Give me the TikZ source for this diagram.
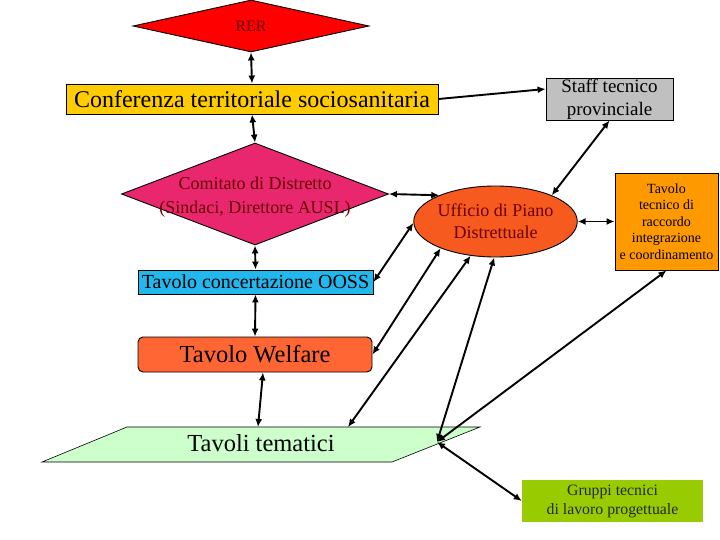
\documentclass[tikz,border=0pt]{standalone}
\usepackage{fontspec}
\setmainfont{Liberation Serif}
\usetikzlibrary{shapes.geometric,arrows.meta,calc}
\definecolor{rerred}{HTML}{FF0000}
\definecolor{confgold}{HTML}{FFCC00}
\definecolor{staffgray}{HTML}{C0C0C0}
\definecolor{comipink}{HTML}{E8276E}
\definecolor{uffred}{HTML}{F65A1E}
\definecolor{tecorange}{HTML}{FF9900}
\definecolor{oossblue}{HTML}{22B8EE}
\definecolor{welforange}{HTML}{FF6633}
\definecolor{temgreen}{HTML}{CCFFCC}
\definecolor{grupgreen}{HTML}{99CC00}
\definecolor{darkred}{HTML}{6A0000}
\tikzset{
  boxnode/.style={draw=black, line width=0.9pt, inner sep=0pt, align=center},
  link/.style={line width=1.9pt, {Latex[length=8pt,width=7pt]}-{Latex[length=8pt,width=7pt]}},
  onelink/.style={line width=1.9pt, -{Latex[length=8pt,width=7pt]}},
}
\begin{document}
\begin{tikzpicture}[x=1pt,y=-1pt]
\useasboundingbox (0,0) rectangle (720,540);
% nodes
\node[diamond, boxnode, fill=rerred, minimum width=236pt, minimum height=52pt, aspect=4.5] (rer) at (251,26) {};
\node[text=darkred, inner sep=0pt, font=\fontsize{16}{18}\selectfont] (rertext) at (rer.center) {RER};
\node[boxnode, fill=confgold, minimum width=372pt, minimum height=30pt,
      font=\fontsize{24}{26}\selectfont] (conf) at (252,99) {Conferenza territoriale sociosanitaria};
\node[boxnode, fill=staffgray, minimum width=127pt, minimum height=42pt,
      font=\fontsize{19}{23}\selectfont] (staff) at (609.5,99) {Staff tecnico\\provinciale};
\node[diamond, boxnode, fill=comipink, minimum width=267pt, minimum height=102pt, aspect=2.6] (comi) at (255,194) {};
\node[text=darkred, inner sep=0pt, align=center, font=\fontsize{18}{24}\selectfont] (comitext) at (255,197) {Comitato di Distretto\\(Sindaci, Direttore AUSL)};
\node[ellipse, boxnode, fill=uffred, minimum width=149pt, minimum height=71pt, text=darkred,
      font=\fontsize{18}{22}\selectfont] (uff) at (495.5,221.5) {Ufficio di Piano\\Distrettuale};
\node[boxnode, fill=tecorange, minimum width=103pt, minimum height=97pt,
      font=\fontsize{14}{16.5}\selectfont] (tec) at (666.5,221.5) {Tavolo\\tecnico di\\raccordo\\integrazione\\e coordinamento};
\node[boxnode, fill=oossblue, minimum width=235pt, minimum height=24pt,
      font=\fontsize{20}{22}\selectfont] (ooss) at (255.5,282) {Tavolo concertazione OOSS};
\node[boxnode, fill=welforange, rounded corners=5pt, minimum width=234pt, minimum height=35pt,
      font=\fontsize{24.5}{26}\selectfont] (welf) at (255,354.5) {Tavolo Welfare};
% parallelogram Tavoli tematici
\coordinate (pA) at (127,427);
\coordinate (pB) at (480,427);
\coordinate (pC) at (392,462);
\coordinate (pD) at (42,462);
\draw[fill=temgreen, line width=0.6pt] (pA) -- (pB) -- (pC) -- (pD) -- cycle;
\node[inner sep=0pt, font=\fontsize{24.5}{26}\selectfont] (tem) at (261,443) {Tavoli tematici};
\coordinate (t1) at (258,427);
\coordinate (t2) at (348,427);
\coordinate (hub) at (437,442);
\node[fill=grupgreen, inner sep=0pt, align=center, minimum width=181pt, minimum height=42pt,
      text=black!85, font=\fontsize{15.8}{19}\selectfont] (grup) at (612.5,501) {Gruppi tecnici\\di lavoro progettuale};
% connectors
\draw[link] (rer.south) -- (conf.north);
\draw[link] (conf.south) -- (comi.north);
\draw[onelink] (conf.east) -- ($(staff.west)+(0,-10)$);
\draw[link] (comi.east) -- (uff.155);
\draw[link] (staff.south) -- (uff.25);
\draw[link] (uff.east) -- (tec.west);
\draw[link] (comi.south) -- (ooss.north);
\draw[link] (ooss.south) -- (welf.north);
\draw[link] ($(welf.south)+(8,0)$) -- (t1);
\draw[link] (ooss.east) -- (uff.181);
\draw[link] (welf.east) -- (uff.206);
\draw[link] (t2) -- (uff.234);
\draw[link] (hub) -- (uff.268);
\draw[link] (hub) -- (tec.south);
\draw[link] (hub) -- (grup.west);
\end{tikzpicture}
\end{document}
